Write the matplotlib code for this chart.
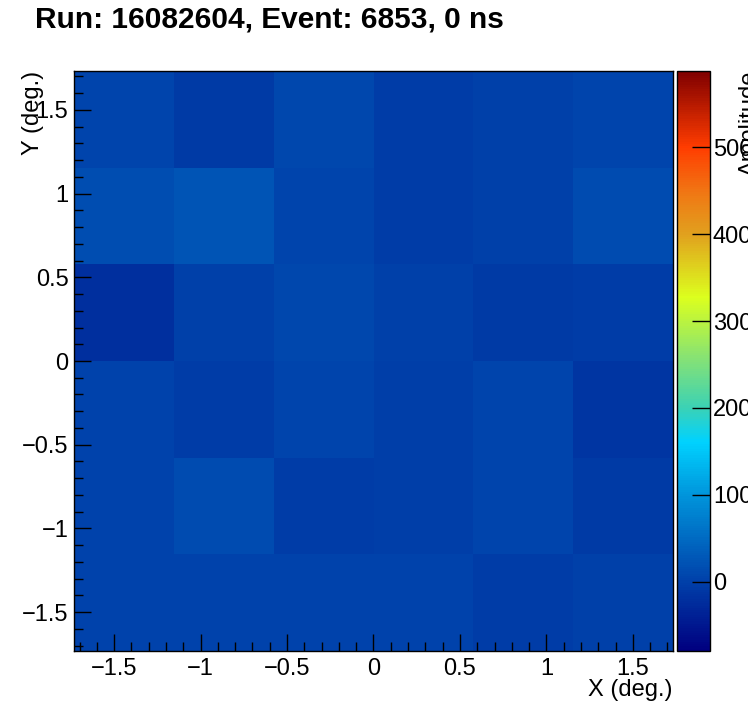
import numpy as np
import matplotlib
matplotlib.use('Agg')
import matplotlib.pyplot as plt
from matplotlib.colors import LinearSegmentedColormap
from matplotlib.ticker import MultipleLocator

# amplitudes per pixel, rows from top (y = +1.73) to bottom, columns left to right
amp_rows = [
    [5, -7, 7, -5, 0, 5],
    [16, 24, 5, -5, 0, 14],
    [-21, 0, 8, 0, -9, -5],
    [2, -5, 5, -2, 5, -12],
    [2, 12, -5, -2, 5, -7],
    [2, 2, 2, 2, -5, 0],
]
x_edges = np.linspace(-1.732, 1.732, 7)
y_edges = np.linspace(-1.732, 1.732, 7)
z_min, z_max = -80, 588
x_ticks = [-1.5, -1, -0.5, 0, 0.5, 1, 1.5]
x_tick_labels = ['\u22121.5', '\u22121', '\u22120.5', '0', '0.5', '1', '1.5']
z_ticks = [0, 100, 200, 300, 400, 500]

title = 'Run: 16082604, Event: 6853, 0 ns'

# ROOT-like rainbow palette
pal = LinearSegmentedColormap.from_list('rootrainbow', [
    (0.00, (0/255, 0/255, 128/255)),
    (0.12, (0/255, 65/255, 170/255)),
    (0.27, (0/255, 150/255, 220/255)),
    (0.36, (0/255, 210/255, 255/255)),
    (0.42, (60/255, 210/255, 180/255)),
    (0.50, (130/255, 225/255, 120/255)),
    (0.61, (220/255, 255/255, 30/255)),
    (0.72, (225/255, 160/255, 30/255)),
    (0.79, (240/255, 120/255, 20/255)),
    (0.87, (255/255, 60/255, 0/255)),
    (1.00, (128/255, 0/255, 0/255)),
], N=255)

plt.rcParams['font.family'] = ['Liberation Sans', 'DejaVu Sans']
plt.rcParams['axes.unicode_minus'] = True

fig = plt.figure(figsize=(7.48, 7.24), dpi=100)
W, H = 748, 724
ax = fig.add_axes([74 / W, 1 - 651 / H, 599 / W, 580 / H])
cax = fig.add_axes([677 / W, 1 - 651 / H, 33 / W, 580 / H])

z = np.array(amp_rows[::-1], dtype=float)
mesh = ax.pcolormesh(x_edges, y_edges, z, cmap=pal, vmin=z_min, vmax=z_max)
ax.set_xlim(x_edges[0], x_edges[-1])
ax.set_ylim(y_edges[0], y_edges[-1])

ax.set_xticks(x_ticks)
ax.set_xticklabels(x_tick_labels)
ax.set_yticks(x_ticks)
ax.set_yticklabels(x_tick_labels)
ax.xaxis.set_minor_locator(MultipleLocator(0.1))
ax.yaxis.set_minor_locator(MultipleLocator(0.1))
ax.tick_params(which='major', direction='in', length=12.5, width=1, labelsize=17, pad=5)
ax.tick_params(which='minor', direction='in', length=6.5, width=1)
ax.tick_params(axis='y', pad=4)
for s in ax.spines.values():
    s.set_linewidth(1)

cb = fig.colorbar(mesh, cax=cax)
cb.set_ticks(z_ticks)
cb.ax.yaxis.set_ticks_position('right')
cb.ax.tick_params(direction='in', length=13, width=1, labelsize=17, pad=2)
cb.ax.minorticks_off()
cb.outline.set_linewidth(1)

fig.text(35 / W, 1 - 20 / H, title, fontsize=21.5, fontweight='bold', ha='left', va='center')
fig.text(673 / W, 1 - 690 / H, 'X (deg.)', fontsize=17, ha='right', va='center')
fig.text(33 / W, 1 - 71 / H, 'Y (deg.)', fontsize=17, rotation=90, ha='center', va='top')
fig.text(739 / W, 1 - 71 / H, 'Amplitude', fontsize=17, rotation=90, ha='left', va='top')

fig.savefig('out.png', dpi=100)
